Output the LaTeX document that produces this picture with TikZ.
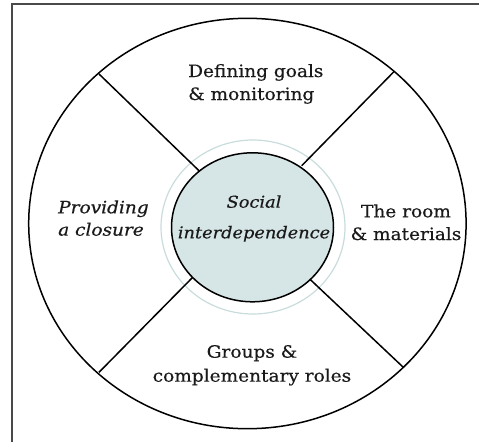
\documentclass[tikz,border=0pt]{standalone}
\usepackage{fontspec}
\setmainfont[FakeStretch=1.09,FakeBold=0.5]{DejaVu Serif}
\usetikzlibrary{shapes.geometric}
\definecolor{corefill}{HTML}{D6E5E5}
\definecolor{ringline}{HTML}{C9DCDC}
\definecolor{framegray}{HTML}{4A4A4A}
\definecolor{inktext}{HTML}{1A1A1A}
\begin{document}
\begin{tikzpicture}[x=1pt,y=-1pt,
  rim/.style={draw=black,line width=1.5pt},
  spoke/.style={draw=black,line width=1.5pt},
  label/.style={inner sep=0pt,text=inktext,font=\fontsize{17}{23}\selectfont},
]
\useasboundingbox (0,0) rectangle (479,442);
% page frame (top and left edges only)
\draw[framegray,line width=1.6pt] (479,4) -- (12,4) -- (12,442);
% outer wheel
\node[ellipse,rim,minimum width=437.4pt,minimum height=410.4pt,inner sep=0pt] (wheel) at (247.4,223.5) {};
% pale halo around the hub
\node[ellipse,draw=ringline,line width=1.2pt,minimum width=184pt,minimum height=174pt,inner sep=0pt] (halo) at (253,227) {};
% spoke end points
\coordinate (ul-out) at (99,74);
\coordinate (ul-in) at (199,170.7);
\coordinate (ur-out) at (394.3,71.3);
\coordinate (ur-in) at (301.7,165.7);
\coordinate (ll-out) at (99,372.3);
\coordinate (ll-in) at (193.3,276.7);
\coordinate (lr-out) at (403.3,367.3);
\coordinate (lr-in) at (310,279.3);
\draw[spoke] (ul-out) -- (ul-in);
\draw[spoke] (ur-out) -- (ur-in);
\draw[spoke] (ll-out) -- (ll-in);
\draw[spoke] (lr-out) -- (lr-in);
% hub
\node[ellipse,rim,fill=corefill,minimum width=162pt,minimum height=149pt,inner sep=0pt] (hub) at (252.5,227.3) {};
% segment labels (base anchor sits on the last line)
\node[label,anchor=base west,align=left] (goals) at (188,100) {Defining goals\\\& monitoring};
\node[label,anchor=base west,align=left,font=\fontsize{17}{22.4}\selectfont\itshape] (closure) at (58,235.7) {Providing\\a closure};
\node[label,anchor=base,align=center,font=\fontsize{16.3}{30.6}\selectfont\itshape] (social) at (254,238.3) {Social\\interdependence};
\node[label,anchor=base,align=center,font=\fontsize{17}{22.7}\selectfont] (room) at (406,240) {The room\\\& materials};
\node[label,anchor=base,align=center,font=\fontsize{17}{24}\selectfont] (groups) at (252,381.7) {Groups \&\\complementary roles};
\end{tikzpicture}
\end{document}
